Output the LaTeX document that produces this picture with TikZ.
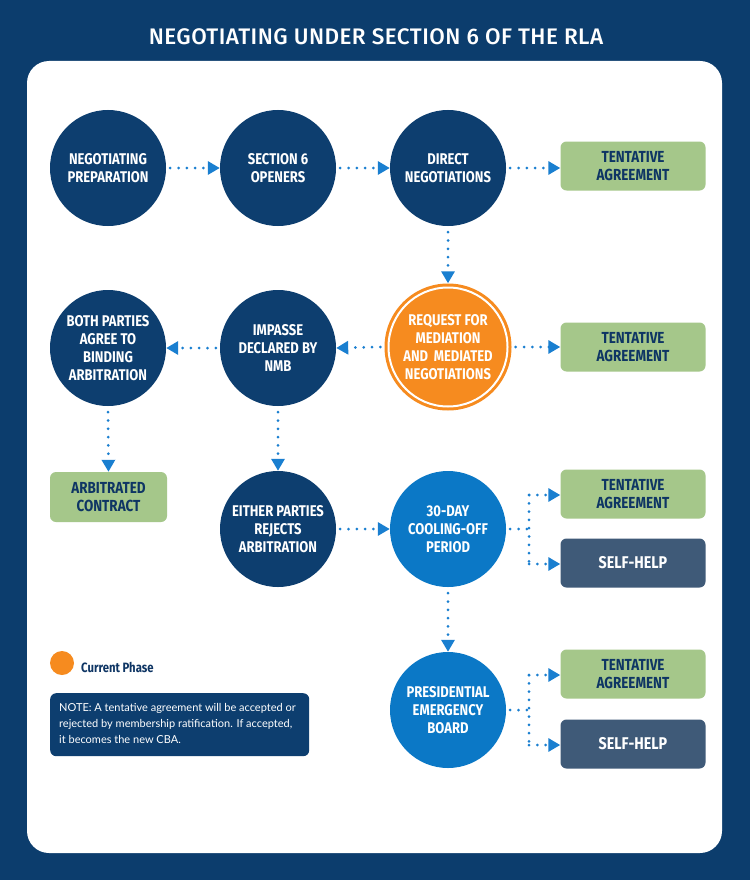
\documentclass[tikz,border=0pt]{standalone}
\usepackage{fontspec}
\usetikzlibrary{arrows.meta,calc}
\newfontfamily\condf[FakeStretch=0.84]{Fira Sans}
\newfontfamily\titlef{Lato}
\newfontfamily\titleb[LetterSpace=2]{Fira Sans Medium}
\definecolor{navy}{HTML}{0D3E6F}
\definecolor{bgnavy}{HTML}{0C3D6D}
\definecolor{lblue}{HTML}{0B78C6}
\definecolor{orng}{HTML}{F68B1F}
\definecolor{grn}{HTML}{A5C78A}
\definecolor{shelp}{HTML}{3F5A78}
\definecolor{arr}{HTML}{1A7FD0}
\definecolor{gtext}{HTML}{0E3564}
\begin{document}
\begin{tikzpicture}[x=1pt,y=-1pt,
  circ/.style={circle,minimum size=116pt,inner sep=0pt,fill=navy,text=white,align=center,
    font=\condf\bfseries\fontsize{15.5}{18}\selectfont},
  lcirc/.style={circ,fill=lblue},
  gbox/.style={rounded corners=6pt,fill=grn,minimum width=145pt,minimum height=49pt,inner sep=0pt,
    text=gtext,align=center,font=\condf\bfseries\fontsize{16}{18}\selectfont},
  sbox/.style={gbox,fill=shelp,text=white,font=\condf\bfseries\fontsize{17}{19}\selectfont},
  dotarr/.style={arr,line width=3pt,line cap=round,dash pattern=on 0pt off 8.3pt,
    -{Triangle[length=12pt,width=13pt,line cap=butt]}},
  dotl/.style={arr,line width=3pt,line cap=round,dash pattern=on 0pt off 8.3pt}
]
\useasboundingbox (0,0) rectangle (750,880);
\fill[bgnavy] (0,0) rectangle (750,880);
\fill[white,rounded corners=22pt] (27,61) rectangle (722,853);
\node[text=white,font=\titleb\fontsize{22.5}{26}\selectfont] (title) at (376,37) {NEGOTIATING UNDER SECTION 6 OF THE RLA};

% row 1
\node[circ] (prep) at (108,168) {NEGOTIATING\\PREPARATION};
\node[circ] (open) at (278,168) {SECTION 6\\OPENERS};
\node[circ] (direct) at (448,168) {DIRECT\\NEGOTIATIONS};
\node[gbox] (ta1) at (633,166) {TENTATIVE\\AGREEMENT};

% row 2
\node[circle,minimum size=127pt,inner sep=0pt,fill=orng] (req) at (448,347) {};
\draw[white,line width=2pt] (req.center) circle (59.5pt);
\node[text=white,align=center,font=\condf\bfseries\fontsize{15.5}{18}\selectfont] (reqt) at (req.center) {REQUEST FOR\\MEDIATION\\AND\, MEDIATED\\NEGOTIATIONS};
\node[circ] (imp) at (278,348) {IMPASSE\\DECLARED BY\\NMB};
\node[circ] (both) at (108,348) {BOTH PARTIES\\AGREE TO\\BINDING\\ARBITRATION};
\node[gbox] (ta2) at (633,347) {TENTATIVE\\AGREEMENT};

% row 3
\node[gbox,minimum width=117pt,minimum height=50pt] (arbc) at (108.5,497) {ARBITRATED\\CONTRACT};
\node[circ] (either) at (278,529) {EITHER PARTIES\\REJECTS\\ARBITRATION};
\node[lcirc] (cool) at (448,529) {30-DAY\\COOLING-OFF\\PERIOD};
\node[gbox] (ta3) at (633,494) {TENTATIVE\\AGREEMENT};
\node[sbox] (sh1) at (633,563) {SELF-HELP};

% row 4
\node[lcirc] (peb) at (448,710) {PRESIDENTIAL\\EMERGENCY\\BOARD};
\node[gbox] (ta4) at (633,674) {TENTATIVE\\AGREEMENT};
\node[sbox] (sh2) at (633,744) {SELF-HELP};

% connectors
\draw[dotarr] ([xshift=4pt]prep.east) -- (open.west);
\draw[dotarr] ([xshift=4pt]open.east) -- (direct.west);
\draw[dotarr] ([xshift=4pt]direct.east) -- (ta1.west|-direct.east);
\draw[dotarr] ([yshift=-6pt]direct.south) -- (req.north);
\draw[dotarr] ([xshift=-4pt]req.west) -- (imp.east);
\draw[dotarr] ([xshift=-4pt]imp.west) -- (both.west-|both.east);
\draw[dotarr] ([xshift=4pt]req.east) -- (ta2.west|-req.east);
\draw[dotarr] ([yshift=-6pt]both.south) -- (arbc.north);
\draw[dotarr] ([yshift=-6pt]imp.south) -- (either.north);
\draw[dotarr] ([xshift=4pt]either.east) -- (cool.west);
\draw[dotarr] ([yshift=-6pt]cool.south) -- (peb.north);

% branches
\coordinate (j1) at (529,529);
\coordinate (j1a) at (529,495);
\coordinate (j1b) at (529,564);
\draw[dotl] ([xshift=4pt]cool.east) -- (j1);
\draw[dotl] (j1a) -- (j1b);
\draw[dotarr] (j1a) -- (ta3.west|-j1a);
\draw[dotarr] (j1b) -- (sh1.west|-j1b);

\coordinate (j2) at (529,710);
\coordinate (j2a) at (529,675);
\coordinate (j2b) at (529,745);
\draw[dotl] ([xshift=4pt]peb.east) -- (j2);
\draw[dotl] (j2a) -- (j2b);
\draw[dotarr] (j2a) -- (ta4.west|-j2a);
\draw[dotarr] (j2b) -- (sh2.west|-j2b);

% legend
\node[circle,fill=orng,minimum size=24pt,inner sep=0pt] (ldot) at (62,663) {};
\node[anchor=west,text=gtext,font=\condf\bfseries\fontsize{13.5}{15}\selectfont,inner sep=0pt] (ltext) at (81,667) {Current Phase};
\node[fill=navy,rounded corners=6pt,minimum width=259pt,minimum height=63pt,anchor=north west,inner sep=0pt] (note) at (50,693) {};
\node[anchor=north west,text=white,align=left,inner sep=0pt,font=\titlef\fontsize{11}{16}\selectfont] (notet) at (59,703) {NOTE: A tentative agreement will be accepted or\\rejected by membership ratification. If accepted,\\it becomes the new CBA.};
\end{tikzpicture}
\end{document}
